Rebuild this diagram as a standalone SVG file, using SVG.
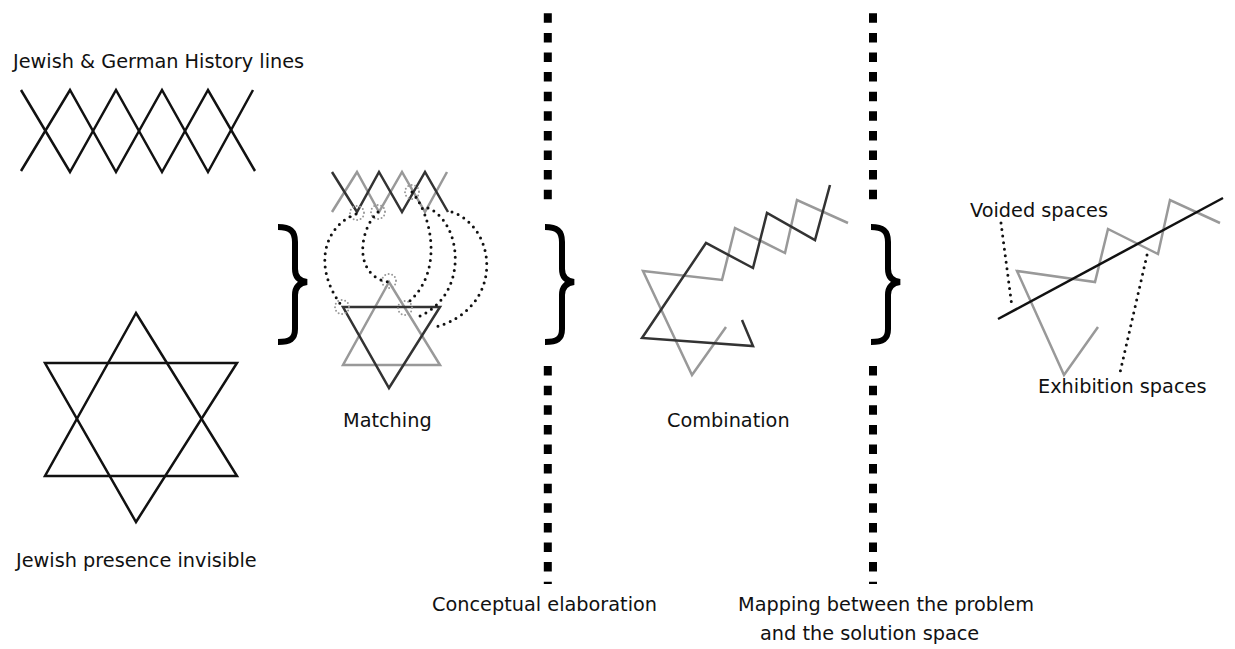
<svg xmlns="http://www.w3.org/2000/svg" xmlns:xlink="http://www.w3.org/1999/xlink" width="1235" height="649" viewBox="0 0 1235 649">
<style>
  text { font-family: "DejaVu Sans", "Liberation Sans", sans-serif; font-size: 19.3px; fill: #111; }
  .blk { fill: none; stroke: #111; stroke-width: 2.5; stroke-linejoin: miter; }
  .dk { fill: none; stroke: #333; stroke-width: 2.5; stroke-linejoin: miter; }
  .gr { fill: none; stroke: #999; stroke-width: 2.5; stroke-linejoin: miter; }
  .dots { fill: none; stroke: #111; stroke-width: 3; stroke-linecap: round; stroke-dasharray: 0 6.6; }
  .ring { fill: none; stroke: #999; stroke-width: 2; stroke-linecap: round; stroke-dasharray: 0 3.6; }
  .sep { fill: none; stroke: #000; stroke-width: 8; stroke-dasharray: 9.5 10.1; }
  .brace { fill: none; stroke: #000; stroke-width: 6; }
  .mask { fill: #fff; stroke: none; }
</style>
<defs>
  <path id="bracePath" class="brace" d="M0,1 C12,1 17,5 17,16 L17,43 C17,51 21,55 29,56 C21,57 17,61 17,69 L17,103 C17,113 12,116 0,116"/>
</defs>
<rect width="1235" height="649" fill="#fff"/>

<g id="history-lines">
  <polyline class="blk" points="21,90 70,172 116,90 162,172 208,90 255,171"/>
  <polyline class="blk" points="21,171 70,90 116,172 162,90 208,172 253,90"/>
  <text x="13" y="68">Jewish &amp; German History lines</text>
</g>

<g id="star">
  <polygon class="blk" points="136,313 45,476 237,476"/>
  <polygon class="blk" points="45,363 237,363 136,522"/>
  <text x="16" y="567">Jewish presence invisible</text>
</g>

<g id="brace-1"><use xlink:href="#bracePath" x="278" y="226"/></g>

<g id="matching">
  <polyline class="gr" points="332,212 357,172 379,212 402,172 425,212 447,172"/>
  <polyline class="dk" points="332,172 357,212 379,172 402,212 425,172 448,212"/>
  <polygon class="gr" points="389,282 343,365 440,365"/>
  <polygon class="dk" points="343,307 440,307 389,388"/>
  <circle class="ring" cx="357" cy="213" r="7"/>
  <circle class="ring" cx="378" cy="212" r="7"/>
  <circle class="ring" cx="412" cy="192" r="7"/>
  <circle class="ring" cx="389" cy="281" r="7"/>
  <circle class="ring" cx="342" cy="307" r="7"/>
  <circle class="ring" cx="405" cy="308" r="7"/>
  <text x="343" y="427">Matching</text>
</g>

<g id="separator-1"><line class="sep" x1="547.8" y1="13.3" x2="547.8" y2="584"/></g>
<g id="brace-2">
  <rect class="mask" x="539" y="207" width="40" height="152"/>
  <use xlink:href="#bracePath" x="545" y="226"/>
</g>

<g id="combination">
  <polyline class="gr" points="848,223 797,200 785,253 735,228 722,280 643,271 692,375 726,327"/>
  <polyline class="dk" points="830,185 815,240 767,213 753,268 706,243 642,338 753,346 742,320"/>
  <text x="667" y="427">Combination</text>
</g>

<g id="separator-2"><line class="sep" x1="873" y1="13.3" x2="873" y2="584"/></g>
<g id="brace-3">
  <rect class="mask" x="865" y="207" width="40" height="152"/>
  <use xlink:href="#bracePath" x="871" y="226"/>
</g>

<g id="mapping">
  <polyline class="gr" points="1220,223 1170,200 1158,254 1108,229 1095,282 1017,271 1064,375 1098,327"/>
  <line class="blk" x1="998" y1="319" x2="1223" y2="198"/>
  <text x="970" y="217">Voided spaces</text>
  <text x="1038" y="393">Exhibition spaces</text>
</g>

<g id="labels">
  <text x="432" y="611">Conceptual elaboration</text>
  <text x="738" y="611">Mapping between the problem</text>
  <text x="760" y="640">and the solution space</text>
</g>

<g id="connectors">
  <path class="dots" d="M356,214 C325,226 312,265 341,305"/>
  <path class="dots" d="M378,212 C360,228 352,275 388,282"/>
  <path class="dots" d="M412,192 C432,215 445,275 405,305"/>
  <path class="dots" d="M428,208 C462,222 470,295 418,317"/>
  <path class="dots" d="M452,212 C498,228 505,310 432,328"/>
  <line class="dots" x1="1001" y1="223" x2="1012" y2="307"/>
  <line class="dots" x1="1147" y1="255" x2="1119" y2="377"/>
</g>
</svg>
